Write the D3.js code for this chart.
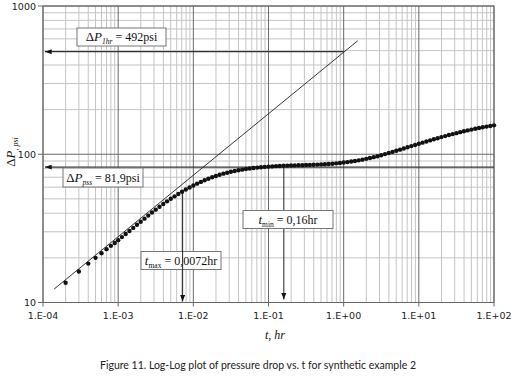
<!DOCTYPE html>
<html>
<head>
<meta charset="utf-8">
<script src="https://cdn.jsdelivr.net/npm/d3@7"></script>
<style>
  body { margin: 0; background: #fff; }
  svg { display: block; }
  .tick-label { font-family: "DejaVu Sans", Verdana, sans-serif; font-size: 9.5px; fill: #222; }
  .note { font-family: "Liberation Serif", "Times New Roman", serif; font-size: 12px; fill: #111; }
</style>
</head>
<body>
<svg id="chart"></svg>
<script>
// Time (hr) of each simulated point
const timeHr = [
  2e-4, 3e-4, 4e-4, 5e-4, 6e-4, 7e-4, 8e-4, 9e-4,
  1.000e-3, 1.122e-3, 1.259e-3, 1.413e-3, 1.585e-3, 1.778e-3, 1.995e-3, 2.239e-3, 2.512e-3, 2.818e-3,
  3.162e-3, 3.548e-3, 3.981e-3, 4.467e-3, 5.012e-3, 5.623e-3, 6.310e-3, 7.079e-3, 7.943e-3, 8.913e-3,
  1.000e-2, 1.122e-2, 1.259e-2, 1.413e-2, 1.585e-2, 1.778e-2, 1.995e-2, 2.239e-2, 2.512e-2, 2.818e-2,
  3.162e-2, 3.548e-2, 3.981e-2, 4.467e-2, 5.012e-2, 5.623e-2, 6.310e-2, 7.079e-2, 7.943e-2, 8.913e-2,
  1.000e-1, 1.122e-1, 1.259e-1, 1.413e-1, 1.585e-1, 1.778e-1, 1.995e-1, 2.239e-1, 2.512e-1, 2.818e-1,
  3.162e-1, 3.548e-1, 3.981e-1, 4.467e-1, 5.012e-1, 5.623e-1, 6.310e-1, 7.079e-1, 7.943e-1, 8.913e-1,
  1.000, 1.122, 1.259, 1.413, 1.585, 1.778, 1.995, 2.239, 2.512, 2.818,
  3.162, 3.548, 3.981, 4.467, 5.012, 5.623, 6.310, 7.079, 7.943, 8.913,
  10.00, 11.22, 12.59, 14.13, 15.85, 17.78, 19.95, 22.39, 25.12, 28.18,
  31.62, 35.48, 39.81, 44.67, 50.12, 56.23, 63.10, 70.79, 79.43, 89.13,
  100.0
];

// Pressure drop (psi)
const pressureDrop = [
  13.6, 16.2, 18.3, 20.0, 21.5, 22.9, 24.1, 25.2,
  26.33, 27.61, 28.96, 30.38, 31.86, 33.42, 35.06, 36.77, 38.57, 40.43,
  42.30, 44.22, 46.13, 48.10, 50.06, 52.01, 53.95, 55.87, 57.78, 59.66,
  61.52, 63.34, 65.11, 66.79, 68.39, 69.92, 71.37, 72.71, 73.96, 75.11,
  76.17, 77.13, 77.98, 78.75, 79.47, 80.13, 80.72, 81.25, 81.73, 82.15,
  82.51, 82.83, 83.10, 83.35, 83.56, 83.75, 83.95, 84.08, 84.24, 84.39,
  84.57, 84.74, 84.92, 85.13, 85.39, 85.66, 86.00, 86.38, 86.82, 87.34,
  87.90, 88.55, 89.28, 90.09, 90.99, 91.98, 93.09, 94.30, 95.61, 97.03,
  98.54, 100.2, 101.9, 103.7, 105.5, 107.4, 109.4, 111.4, 113.5, 115.5,
  117.6, 119.7, 121.9, 124.0, 126.2, 128.3, 130.5, 132.6, 134.7, 136.8,
  138.8, 140.9, 142.9, 144.8, 146.7, 148.6, 150.3, 152.0, 153.7, 155.2,
  156.7
];

// Straight line drawn through the early-time points (end points)
const lineTime = [1.40e-4, 1.54];
const linePressure = [12.3, 583];

// Annotated values
const dP1hr = 492;      // psi, read at t = 1 hr
const dPpss = 81.9;     // psi
const tMax = 0.0072;    // hr
const tMin = 0.16;      // hr
const tMaxFromP = 56;   // where the arrow leaves the curve
const tMinFromP = 83;

// Axis ticks
const xTickValues = [1e-4, 1e-3, 1e-2, 1e-1, 1e0, 1e1, 1e2];
const xTickLabels = ["1.E-04", "1.E-03", "1.E-02", "1.E-01", "1.E+00", "1.E+01", "1.E+02"];
const yTickValues = [10, 100, 1000];
const yTickLabels = ["10", "100", "1000"];

const W = 515, H = 383;
const plot = {left: 43, right: 494, top: 6, bottom: 302.5};

const svg = d3.select("#chart").attr("width", W).attr("height", H);

const x = d3.scaleLog().domain([1e-4, 1e2]).range([plot.left, plot.right]);
const y = d3.scaleLog().domain([10, 1000]).range([plot.bottom, plot.top]);

// arrow heads
const defs = svg.append("defs");
defs.append("marker")
    .attr("id", "arrow")
    .attr("viewBox", "0 0 8 6")
    .attr("refX", 8).attr("refY", 3)
    .attr("markerWidth", 7).attr("markerHeight", 5)
    .attr("markerUnits", "userSpaceOnUse")
    .attr("orient", "auto")
    .append("path")
    .attr("d", "M0,0L8,3L0,6Z")
    .attr("fill", "#111");
defs.append("clipPath").attr("id", "clip")
    .append("rect")
    .attr("x", plot.left).attr("y", plot.top)
    .attr("width", plot.right - plot.left).attr("height", plot.bottom - plot.top);

const isMajor = v => Math.abs(Math.log10(v) - Math.round(Math.log10(v))) < 1e-6;

// Grid: minor first, major on top
const grid = svg.append("g");
const xGrid = x.ticks();
const yGrid = y.ticks();

grid.selectAll(".vminor").data(xGrid.filter(d => !isMajor(d))).enter().append("line")
    .attr("x1", d => x(d)).attr("x2", d => x(d))
    .attr("y1", plot.top).attr("y2", plot.bottom)
    .attr("stroke", "#c4c4c4").attr("stroke-width", 1);
grid.selectAll(".hminor").data(yGrid.filter(d => !isMajor(d))).enter().append("line")
    .attr("x1", plot.left).attr("x2", plot.right)
    .attr("y1", d => y(d)).attr("y2", d => y(d))
    .attr("stroke", "#c4c4c4").attr("stroke-width", 1);
grid.selectAll(".vmajor").data(xGrid.filter(isMajor)).enter().append("line")
    .attr("x1", d => x(d)).attr("x2", d => x(d))
    .attr("y1", plot.top).attr("y2", plot.bottom + 4)
    .attr("stroke", "#6a6a6a").attr("stroke-width", 1);
grid.selectAll(".hmajor").data(yGrid.filter(isMajor)).enter().append("line")
    .attr("x1", plot.left - 5).attr("x2", plot.right)
    .attr("y1", d => y(d)).attr("y2", d => y(d))
    .attr("stroke", "#6a6a6a").attr("stroke-width", 1);

// plot frame
svg.append("rect")
    .attr("x", plot.left).attr("y", plot.top)
    .attr("width", plot.right - plot.left).attr("height", plot.bottom - plot.top)
    .attr("fill", "none").attr("stroke", "#666").attr("stroke-width", 1);

// tick labels
svg.selectAll(".xlab").data(xTickValues).enter().append("text")
    .attr("class", "tick-label")
    .attr("x", d => x(d)).attr("y", plot.bottom + 16)
    .attr("text-anchor", "middle")
    .text((d, i) => xTickLabels[i]);
svg.selectAll(".ylab").data(yTickValues).enter().append("text")
    .attr("class", "tick-label")
    .attr("x", plot.left - 7).attr("y", d => y(d) + 3.5)
    .attr("text-anchor", "end")
    .text((d, i) => yTickLabels[i]);

// axis titles
svg.append("text").attr("class", "note")
    .attr("x", 275).attr("y", 339)
    .attr("text-anchor", "middle")
    .style("font-style", "italic").style("font-size", "12px")
    .text("t, hr");

const yTitle = svg.append("text").attr("class", "note")
    .attr("transform", "translate(15,152) rotate(-90)")
    .attr("text-anchor", "middle")
    .style("font-size", "13px");
yTitle.append("tspan").text("Δ");
yTitle.append("tspan").style("font-style", "italic").text("P");
yTitle.append("tspan").style("font-style", "italic").style("font-size", "8px").attr("dy", 3).text(", psi");

// caption
svg.append("text")
    .attr("x", 258).attr("y", 369)
    .attr("text-anchor", "middle")
    .style("font-family", "Lato, 'Open Sans', sans-serif")
    .style("font-size", "10.5px")
    .attr("fill", "#222")
    .text("Figure 11. Log-Log plot of pressure drop vs. t for synthetic example 2");

// annotation box helper
function noteBox(cx, cy, w, h, parts) {
    const g = svg.append("g");
    g.append("rect")
        .attr("x", cx - w / 2).attr("y", cy - h / 2)
        .attr("width", w).attr("height", h)
        .attr("fill", "#fff").attr("stroke", "#777").attr("stroke-width", 1);
    const t = g.append("text").attr("class", "note")
        .attr("x", cx).attr("y", cy + 4)
        .attr("text-anchor", "middle");
    parts.forEach(p => {
        const s = t.append("tspan").text(p.text);
        if (p.italic) s.style("font-style", "italic");
        if (p.small) s.style("font-size", "7.5px");
        if (p.big) s.style("font-size", "13px");
        if (p.dy) s.attr("dy", p.dy);
    });
    return g;
}

// horizontal arrows
svg.append("line")
    .attr("x1", x(1)).attr("x2", plot.left + 2)
    .attr("y1", y(dP1hr)).attr("y2", y(dP1hr))
    .attr("stroke", "#333").attr("stroke-width", 1.2)
    .attr("marker-end", "url(#arrow)");
svg.append("line")
    .attr("x1", plot.right).attr("x2", plot.left + 2)
    .attr("y1", y(dPpss)).attr("y2", y(dPpss))
    .attr("stroke", "#333").attr("stroke-width", 1.2)
    .attr("marker-end", "url(#arrow)");

// t_max box sits under its arrow
noteBox(181, 260.5, 80, 18, [
    {text: "t", italic: true, big: true},
    {text: "max", small: true, dy: 3},
    {text: " = 0,0072hr", dy: -3}
]);

// straight line through the early points
svg.append("line")
    .attr("clip-path", "url(#clip)")
    .attr("x1", x(lineTime[0])).attr("y1", y(linePressure[0]))
    .attr("x2", x(lineTime[1])).attr("y2", y(linePressure[1]))
    .attr("stroke", "#222").attr("stroke-width", 0.9);

// vertical arrows
svg.append("line")
    .attr("x1", x(tMax)).attr("x2", x(tMax))
    .attr("y1", y(tMaxFromP)).attr("y2", plot.bottom - 1)
    .attr("stroke", "#222").attr("stroke-width", 1)
    .attr("marker-end", "url(#arrow)");
svg.append("line")
    .attr("x1", x(tMin)).attr("x2", x(tMin))
    .attr("y1", y(tMinFromP)).attr("y2", plot.bottom - 3)
    .attr("stroke", "#222").attr("stroke-width", 1)
    .attr("marker-end", "url(#arrow)");

// data points
svg.append("g").selectAll("circle")
    .data(timeHr.map((t, i) => ({t: t, p: pressureDrop[i]})))
    .enter().append("circle")
    .attr("cx", d => x(d.t))
    .attr("cy", d => y(d.p))
    .attr("r", 2.2)
    .attr("fill", "#111");

// remaining labels
noteBox(121.5, 37, 89, 18, [
    {text: "Δ", big: true},
    {text: "P", italic: true, big: true},
    {text: "1hr", italic: true, small: true, dy: 3},
    {text: " = 492psi", dy: -3}
]);
noteBox(103, 177.5, 80, 19, [
    {text: "Δ", big: true},
    {text: "P", italic: true, big: true},
    {text: "pss", italic: true, small: true, dy: 3},
    {text: " = 81,9psi", dy: -3}
]);
noteBox(288, 219.5, 90, 18, [
    {text: "t", italic: true, big: true},
    {text: "min", small: true, dy: 3},
    {text: " = 0,16hr", dy: -3}
]);
</script>
</body>
</html>
